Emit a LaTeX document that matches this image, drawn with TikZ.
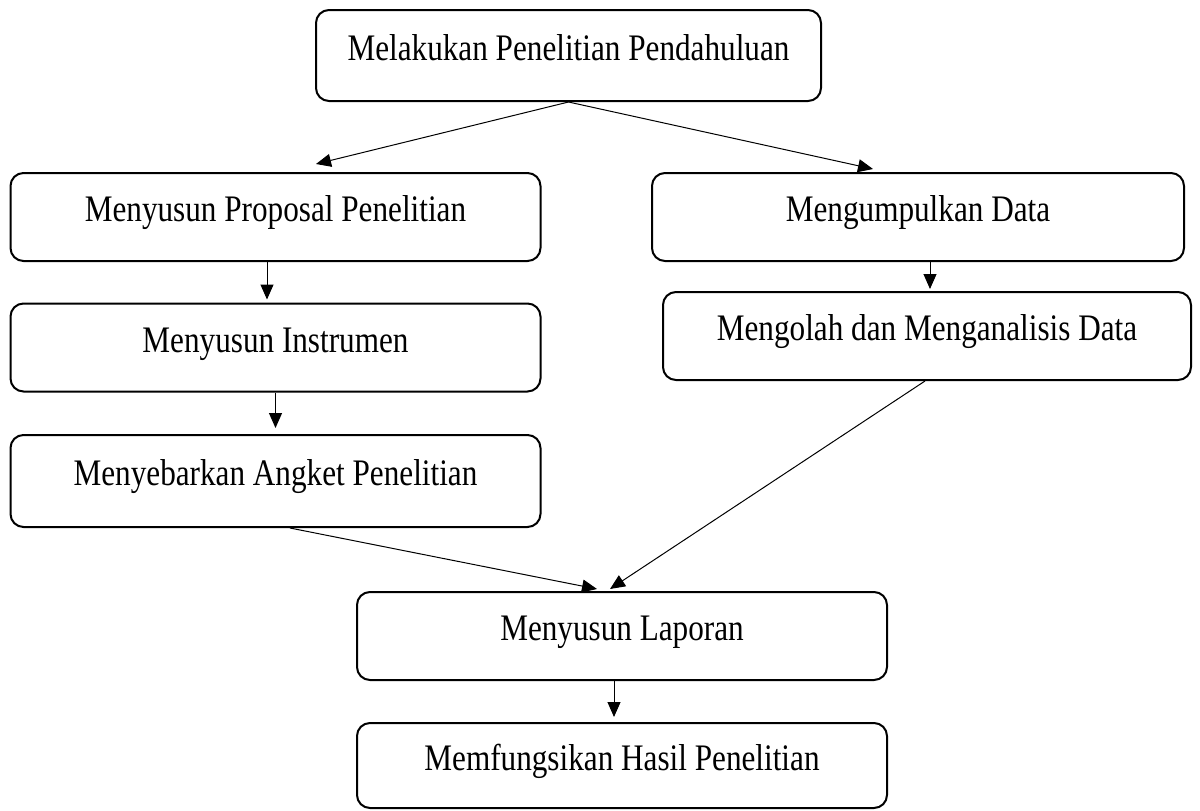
\documentclass[tikz,border=0pt]{standalone}
\usepackage{fontspec}
\setmainfont{Liberation Serif}
\usepackage{tikz}
\usetikzlibrary{arrows.meta}
\newcommand{\tall}[1]{\scalebox{1}[1.2]{#1}}

\begin{document}
\begin{tikzpicture}[x=0.5pt,y=-0.5pt]
\tikzset{>={Triangle[width=6.5pt,length=7.5pt]}}
\tikzstyle{stage} =[draw, rounded corners=6.5pt, line width=1pt, minimum width=265pt, minimum height=44pt, text height=14.3pt, text depth=9.7pt, font=\fontsize{15.6}{18}\selectfont]
\tikzstyle{link} =[->, line width=0.5pt]

\useasboundingbox (0,0) rectangle (1200,810);

\node[stage, minimum width=252.5pt, minimum height=45.5pt](pend) at (568.5,55.5){\tall{Melakukan Penelitian Pendahuluan}};
\node[stage](prop) at (275.5,217){\tall{Menyusun Proposal Penelitian}};
\node[stage, minimum width=266pt](kumpul) at (918,217){\tall{Mengumpulkan Data}};
\node[stage](instr) at (275.5,347.5){\tall{Menyusun Instrumen}};
\node[stage, minimum width=264pt](olah) at (927,336){\tall{Mengolah dan Menganalisis Data}};
\node[stage, minimum height=46pt](angket) at (275.5,481){\tall{Menyebarkan Angket Penelitian}};
\node[stage](lapor) at (622,636){\tall{Menyusun Laporan}};
\node[stage, minimum height=42.5pt](fungsi) at (622,765.5){\tall{Memfungsikan Hasil Penelitian}};

\draw[link] (pend.south) -- ([xshift=20.25pt,yshift=4pt]prop.north);
\draw[link] (pend.south) -- ([xshift=-22.5pt,yshift=1.5pt]kumpul.north);
\draw[link] ([xshift=-4.25pt]prop.south) -- ([xshift=-4.25pt,yshift=1.5pt]instr.north);
\draw[link] ([xshift=6pt]kumpul.south) -- ([xshift=6pt,yshift=1pt]kumpul.south |- olah.north);
\draw[link] (instr.south) -- ([yshift=3pt]angket.north);
\draw[link] ([xshift=7.25pt]angket.south) -- ([xshift=-12.5pt,yshift=1pt]lapor.north);
\draw[link] ([xshift=-1pt]olah.south) -- ([xshift=-6pt,yshift=1pt]lapor.north);
\draw[link] ([xshift=-4pt]lapor.south) -- ([xshift=-4pt,yshift=2.5pt]fungsi.north);
\end{tikzpicture}
\end{document}
